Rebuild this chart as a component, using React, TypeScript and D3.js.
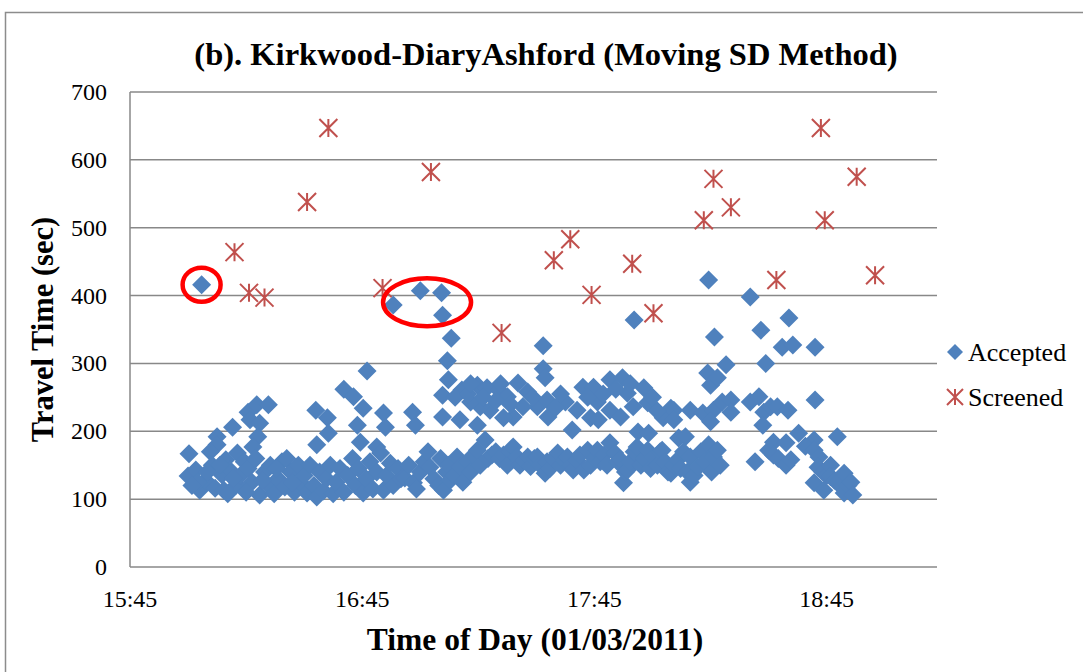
import React from "react";
import * as d3 from "d3";

const title = "(b). Kirkwood-DiaryAshford (Moving SD Method)";
const xTitle = "Time of Day (01/03/2011)";
const yTitle = "Travel Time (sec)";
const xTickLabels = ["15:45", "16:45", "17:45", "18:45"];
const yTickValues = [0, 100, 200, 300, 400, 500, 600, 700];
const xDomain = ["15:45:00", "19:13:30"];
const yDomain = [0, 700];

// Accepted travel times: [time of day, seconds]
const accepted: [string, number][] = [
  ["16:03:30", 416], ["16:46:15", 289], ["16:53:00", 386], ["17:00:00", 407], ["17:05:30", 404],
  ["17:05:45", 371], ["17:08:00", 337], ["17:07:00", 304], ["17:31:45", 326], ["17:31:45", 292],
  ["17:32:15", 279], ["17:55:15", 364], ["18:14:30", 423], ["18:25:15", 398], ["18:35:15", 367],
  ["18:28:00", 349], ["18:16:00", 339], ["18:33:30", 324], ["18:36:15", 327], ["18:42:00", 324],
  ["18:29:15", 300], ["18:19:00", 298], ["18:14:15", 286], ["18:15:00", 268], ["18:16:45", 279],
  ["18:42:00", 246],
  ["16:07:30", 192], ["16:07:30", 180], ["16:11:30", 206], ["16:15:30", 228], ["16:17:45", 239],
  ["16:20:45", 239], ["16:16:00", 217], ["16:18:30", 212], ["16:18:00", 192], ["16:16:45", 177],
  ["16:33:00", 231], ["16:36:00", 220], ["16:36:15", 197], ["16:33:15", 180], ["16:40:15", 262],
  ["16:42:45", 251], ["16:45:15", 234], ["16:43:45", 209], ["16:44:30", 184], ["16:50:30", 227],
  ["16:51:00", 206], ["16:48:45", 177], ["16:58:00", 228], ["16:58:45", 209], ["17:07:15", 276],
  ["17:05:45", 253], ["17:10:45", 261], ["17:14:45", 268], ["17:17:15", 264], ["17:20:15", 261],
  ["17:22:30", 251], ["17:25:15", 271], ["17:27:45", 258], ["17:30:15", 236], ["17:32:45", 246],
  ["17:26:30", 236], ["17:24:00", 221], ["17:21:30", 220], ["17:18:00", 231], ["17:15:30", 236],
  ["17:13:00", 243], ["17:10:15", 217], ["17:14:45", 209], ["17:05:45", 221], ["17:33:00", 221],
  ["17:37:30", 243], ["17:39:15", 202], ["17:40:30", 231], ["17:42:00", 265], ["17:44:45", 265],
  ["17:45:45", 243], ["17:44:00", 220], ["17:46:00", 217], ["17:49:00", 276], ["17:52:15", 279],
  ["17:53:30", 256], ["17:55:00", 236], ["17:57:45", 264], ["17:58:45", 242], ["17:49:00", 231],
  ["17:51:45", 221], ["18:04:45", 234], ["18:02:45", 220], ["18:06:45", 190], ["17:56:15", 199],
  ["17:59:00", 197], ["18:05:30", 231], ["18:09:45", 231], ["18:13:00", 227], ["18:15:45", 231],
  ["18:18:00", 243], ["18:20:15", 246], ["18:20:15", 228], ["18:25:15", 243], ["18:27:30", 251],
  ["18:28:45", 228], ["18:30:30", 236], ["18:32:15", 236], ["18:35:00", 231], ["18:28:30", 209],
  ["18:15:00", 214], ["18:05:30", 217], ["18:08:30", 192], ["18:37:45", 197], ["18:41:45", 187],
  ["18:47:45", 192],
  ["17:09:00", 250], ["17:12:15", 255], ["17:16:15", 250], ["17:19:30", 245], ["17:23:15", 240],
  ["17:29:00", 250], ["17:35:00", 235], ["17:36:15", 255], ["17:43:15", 250], ["17:47:15", 255],
  ["17:50:30", 262], ["17:54:15", 270], ["18:00:00", 250], ["18:01:15", 230], ["17:20:45", 270],
  ["17:13:00", 270],
  ["16:00:00", 134], ["16:00:15", 167], ["16:03:00", 113], ["16:02:00", 143], ["16:04:30", 128],
  ["16:05:45", 170], ["16:06:15", 150], ["16:07:00", 116], ["16:08:45", 136], ["16:09:45", 158],
  ["16:09:15", 113], ["16:10:45", 143], ["16:12:30", 121], ["16:12:45", 168], ["16:14:30", 155],
  ["16:13:30", 135], ["16:02:30", 125], ["16:05:00", 140], ["16:08:15", 150], ["16:11:45", 130],
  ["16:01:00", 120], ["16:10:15", 108], ["16:15:30", 145], ["16:16:30", 125], ["16:17:30", 160],
  ["16:18:30", 106], ["16:19:45", 140], ["16:20:45", 120], ["16:21:15", 150], ["16:22:15", 108],
  ["16:23:15", 130], ["16:24:15", 155], ["16:25:00", 118], ["16:25:30", 160], ["16:26:30", 140],
  ["16:27:30", 110], ["16:28:30", 150], ["16:29:00", 125], ["16:15:00", 110], ["16:19:15", 128],
  ["16:22:45", 145], ["16:27:00", 125], ["16:30:00", 135], ["16:30:45", 109], ["16:31:30", 150],
  ["16:32:30", 120], ["16:33:15", 103], ["16:34:00", 140], ["16:35:00", 112], ["16:35:45", 130],
  ["16:36:45", 150], ["16:37:30", 108], ["16:38:15", 125], ["16:39:15", 145], ["16:40:15", 110],
  ["16:41:15", 135], ["16:42:30", 160], ["16:43:15", 120], ["16:44:00", 145], ["16:45:15", 109],
  ["16:46:00", 130], ["16:47:00", 155], ["16:47:45", 115], ["16:48:45", 140], ["16:49:45", 168],
  ["16:50:30", 113], ["16:51:15", 135], ["16:52:15", 153], ["16:53:00", 120], ["16:54:15", 145],
  ["16:55:00", 130], ["16:56:00", 131], ["16:57:00", 150], ["16:58:15", 124], ["16:59:00", 115],
  ["17:00:00", 140], ["17:01:00", 155], ["17:02:00", 170], ["17:02:30", 147], ["17:03:30", 130],
  ["17:04:45", 120], ["17:05:15", 160], ["17:06:00", 113], ["17:06:45", 140], ["17:07:45", 128],
  ["17:07:15", 150], ["17:08:45", 135], ["17:09:30", 162], ["17:10:15", 147], ["17:11:00", 125],
  ["17:12:15", 155], ["17:13:00", 140], ["17:13:45", 165], ["17:14:45", 172], ["17:15:30", 150],
  ["17:16:45", 187], ["17:17:30", 160], ["17:18:30", 165], ["17:19:30", 170], ["17:20:30", 160],
  ["17:21:30", 165], ["17:22:30", 150], ["17:23:15", 170], ["17:24:00", 177], ["17:25:00", 162],
  ["17:25:45", 150], ["17:27:00", 157], ["17:27:45", 162], ["17:28:30", 148], ["17:29:30", 160],
  ["17:30:15", 162], ["17:31:00", 150], ["17:32:15", 138], ["17:32:45", 155], ["17:33:30", 145],
  ["17:34:30", 160], ["17:35:30", 168], ["17:36:15", 150], ["17:37:15", 157], ["17:38:00", 162],
  ["17:39:00", 150], ["17:39:30", 143], ["17:40:30", 157], ["17:41:15", 165], ["17:42:15", 143],
  ["17:43:15", 172], ["17:44:00", 150], ["17:45:00", 160], ["17:45:45", 172], ["17:46:30", 155],
  ["17:47:30", 165], ["17:48:15", 150], ["17:49:00", 183], ["17:50:15", 168], ["17:51:00", 155],
  ["17:51:45", 158], ["17:52:30", 124], ["17:53:00", 140], ["17:53:30", 143], ["17:54:15", 155],
  ["17:55:15", 170], ["17:56:00", 177], ["17:57:00", 150], ["17:58:00", 160], ["17:58:45", 172],
  ["17:59:30", 145], ["18:00:15", 162], ["18:01:15", 150], ["18:02:00", 170], ["18:02:30", 172],
  ["18:03:15", 155], ["18:04:00", 140], ["18:04:45", 138], ["18:05:30", 150], ["18:06:30", 158],
  ["18:07:15", 145], ["18:08:00", 170], ["18:09:00", 140], ["18:09:45", 162], ["18:09:45", 125],
  ["18:10:45", 135], ["18:11:45", 147], ["18:12:30", 170], ["18:13:30", 155], ["18:14:30", 180],
  ["18:15:15", 140], ["18:15:45", 162], ["18:16:45", 172], ["18:17:30", 150], ["18:26:30", 155],
  ["18:30:00", 172], ["18:31:15", 184], ["18:31:15", 165], ["18:32:30", 160], ["18:34:30", 183],
  ["18:34:30", 150], ["18:35:45", 158], ["18:39:30", 178], ["18:41:45", 172], ["18:43:00", 162],
  ["18:42:45", 147], ["18:44:00", 140], ["18:45:00", 135], ["18:46:00", 150], ["18:46:00", 133],
  ["18:41:45", 124], ["18:44:15", 113], ["18:47:00", 128], ["18:47:45", 124], ["18:49:30", 138],
  ["18:49:30", 109], ["18:50:30", 120], ["18:51:15", 125], ["18:51:45", 106],
];

// Screened travel times: [time of day, seconds]
const screened: [string, number][] = [
  ["16:12:00", 464], ["16:15:45", 404], ["16:19:45", 397], ["16:30:45", 538], ["16:36:15", 647],
  ["16:50:15", 411], ["17:02:45", 582], ["17:21:00", 345], ["17:34:30", 452], ["17:38:45", 483],
  ["17:44:15", 401], ["17:54:45", 447], ["18:00:15", 374], ["18:13:15", 511], ["18:15:45", 572],
  ["18:20:15", 530], ["18:32:00", 423], ["18:43:30", 647], ["18:44:30", 511], ["18:52:45", 575],
  ["18:57:30", 430],
];

// Highlight annotations (red ellipses): [time, value, rx, ry]
const highlights: [string, number, number, number][] = [
  ["16:03:30", 416, 19, 17],
  ["17:01:45", 390, 44, 24],
];

const legendItems = ["Accepted", "Screened"];

const BLUE = "#4F81BD";
const RED = "#C0504D";
const GRID = "#888888";
const FONT = "'Liberation Serif', 'Times New Roman', serif";

const parse = d3.timeParse("%H:%M:%S");
const parseHM = d3.timeParse("%H:%M");

const diamond = (r: number) => `M0,${-r}L${r},0L0,${r}L${-r},0Z`;
const star = (r: number) =>
  `M0,${-r}L0,${r}M${-r},${-r}L${r},${r}M${r},${-r}L${-r},${r}`;

export default function App() {
  const W = 1083, H = 672;
  const left = 130, right = 937, top = 92, bottom = 567;
  const x = d3.scaleTime()
    .domain([parse(xDomain[0])!, parse(xDomain[1])!])
    .range([left, right]);
  const y = d3.scaleLinear().domain(yDomain).range([bottom, top]);

  return (
    <svg width={W} height={H} style={{ position: "absolute", left: 0, top: 0, background: "#fff" }}
      fontFamily={FONT}>
      <rect x={5.5} y={12.5} width={1100} height={700} fill="#fff" stroke="#8c8c8c" strokeWidth={1.5} />
      <text x={546} y={65} textAnchor="middle" fontWeight="bold" fontSize={32.5}>{title}</text>

      {yTickValues.map((v) => (
        <g key={v}>
          <line x1={left} x2={right} y1={y(v)} y2={y(v)} stroke={GRID} strokeWidth={1.5} />
          <text x={107} y={y(v) + 8} textAnchor="end" fontSize={24}>{v}</text>
        </g>
      ))}
      <line x1={left} x2={left} y1={top} y2={bottom} stroke={GRID} strokeWidth={1.5} />

      {xTickLabels.map((t) => (
        <text key={t} x={x(parseHM(t)!)} y={607} textAnchor="middle" fontSize={24}>{t}</text>
      ))}

      <text x={535} y={650} textAnchor="middle" fontWeight="bold" fontSize={31.5}>{xTitle}</text>
      <text transform={`translate(43,${(top + bottom) / 2}) rotate(-90)`} textAnchor="middle"
        dominantBaseline="central" fontWeight="bold" fontSize={30.5}>{yTitle}</text>

      <g>
        {accepted.map(([t, v], i) => (
          <path key={i} d={diamond(9.5)} transform={`translate(${x(parse(t)!)},${y(v)})`} fill={BLUE} />
        ))}
      </g>
      <g>
        {screened.map(([t, v], i) => (
          <path key={i} d={star(9)} transform={`translate(${x(parse(t)!)},${y(v)})`} fill="none"
            stroke={RED} strokeWidth={2} />
        ))}
      </g>
      <g>
        {highlights.map(([t, v, rx, ry], i) => (
          <ellipse key={i} cx={x(parse(t)!)} cy={y(v)} rx={rx} ry={ry} fill="none" stroke="#FF0000" strokeWidth={4.5} />
        ))}
      </g>

      <g>
        <path d={diamond(8)} transform="translate(955,352)" fill={BLUE} />
        <text x={968} y={361} fontSize={26}>{legendItems[0]}</text>
        <path d={star(8)} transform="translate(955,397)" fill="none" stroke={RED} strokeWidth={2} />
        <text x={968} y={406} fontSize={26}>{legendItems[1]}</text>
      </g>
    </svg>
  );
}
